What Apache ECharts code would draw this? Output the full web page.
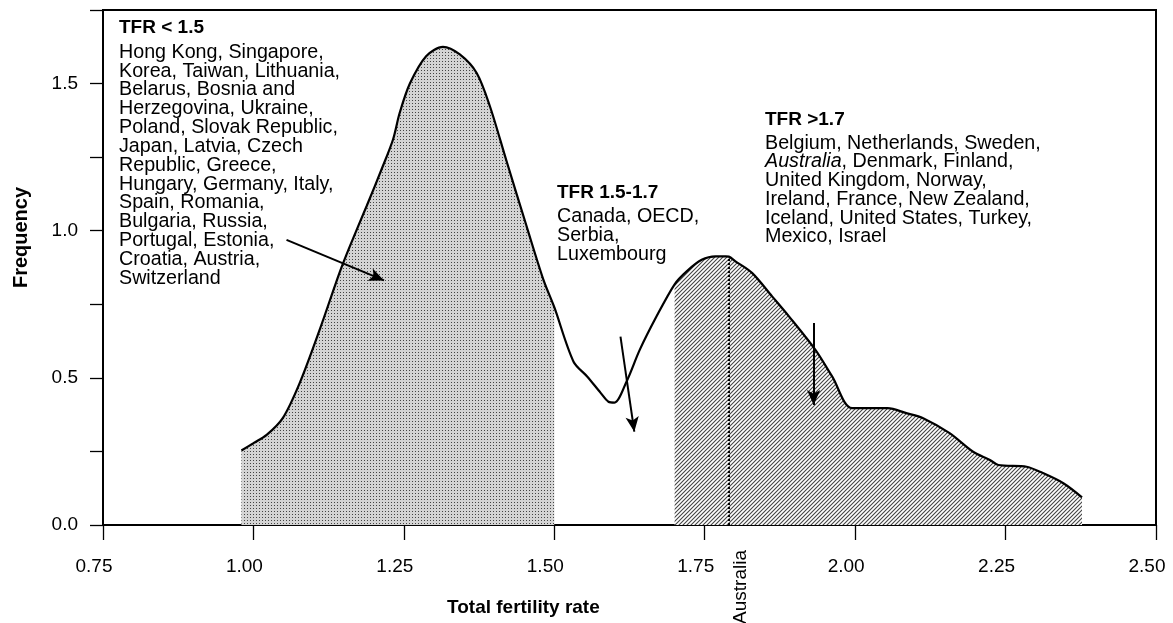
<!DOCTYPE html>
<html><head><meta charset="utf-8">
<script src="https://cdn.jsdelivr.net/npm/echarts@6/dist/echarts.min.js"></script>
<style>html,body{margin:0;padding:0;background:#fff}#c{width:1173px;height:623px}</style>
</head><body><div id="c"></div>
<script>
// ---- data ----
const curveX = [0.98, 1.00, 1.022, 1.049, 1.077, 1.11, 1.143, 1.16, 1.188, 1.215, 1.232, 1.243, 1.26, 1.287, 1.315, 1.343, 1.371, 1.393, 1.42, 1.454, 1.482, 1.50,
  1.532, 1.555, 1.577, 1.59, 1.60, 1.62, 1.642, 1.67, 1.70, 1.72, 1.745, 1.768, 1.785, 1.79, 1.801, 1.829, 1.862, 1.89, 1.934, 1.962, 1.995,
  2.054, 2.085, 2.113, 2.157, 2.196, 2.224, 2.238, 2.285, 2.307, 2.346, 2.377];
const curveY = [0.253, 0.278, 0.306, 0.364, 0.483, 0.663, 0.857, 0.946, 1.083, 1.219, 1.31, 1.40, 1.50, 1.593, 1.625, 1.599, 1.536, 1.423, 1.241, 1.015, 0.833, 0.74,
  0.555, 0.504, 0.449, 0.419, 0.416, 0.487, 0.595, 0.709, 0.818, 0.862, 0.901, 0.913, 0.913, 0.912, 0.896, 0.856, 0.777, 0.709, 0.595, 0.504, 0.397,
  0.397, 0.38, 0.363, 0.312, 0.249, 0.221, 0.204, 0.198, 0.181, 0.142, 0.094];
const lowRange = [0.98, 1.50];
const highRange = [1.70, 2.377];
const australiaX = 1.79;
const arrowFrom = [[1.055, 0.969], [1.610, 0.64], [1.931, 0.686]];
const arrowTo   = [[1.217, 0.831], [1.633, 0.317], [1.931, 0.408]];

const lowTitle = 'TFR < 1.5';
const lowLines = ['Hong Kong, Singapore,', 'Korea, Taiwan, Lithuania,', 'Belarus, Bosnia and', 'Herzegovina, Ukraine,',
  'Poland, Slovak Republic,', 'Japan, Latvia, Czech', 'Republic, Greece,', 'Hungary, Germany, Italy,', 'Spain, Romania,',
  'Bulgaria, Russia,', 'Portugal, Estonia,', 'Croatia, Austria,', 'Switzerland'];
const midTitle = 'TFR 1.5-1.7';
const midLines = ['Canada, OECD,', 'Serbia,', 'Luxembourg'];
const highTitle = 'TFR >1.7';
const highLines = ['Belgium, Netherlands, Sweden,', '{i|Australia}, Denmark, Finland,', 'United Kingdom, Norway,',
  'Ireland, France, New Zealand,', 'Iceland, United States, Turkey,', 'Mexico, Israel'];
const xName = 'Total fertility rate';
const yName = 'Frequency';
const markName = 'Australia';

// ---- build ----
const FONT = '"Liberation Sans", Arial, Helvetica, sans-serif';
const BODY = 19.7;
const pts = curveX.map((x, i) => [x, curveY[i]]);
const lowPts = pts.filter(p => p[0] >= lowRange[0] && p[0] <= lowRange[1]);
const highPts = pts.filter(p => p[0] >= highRange[0] && p[0] <= highRange[1]);
const australiaY = curveY[curveX.indexOf(australiaX)];

function dotPattern() {
  const c = document.createElement('canvas'); c.width = 3; c.height = 3;
  const g = c.getContext('2d');
  g.fillStyle = '#d4d4d4'; g.fillRect(0, 0, 3, 3);
  g.fillStyle = '#444'; g.fillRect(1, 1, 1, 1);
  return c;
}
function hatchPattern() {
  const s = 4;
  const c = document.createElement('canvas'); c.width = s; c.height = s;
  const g = c.getContext('2d');
  g.fillStyle = '#fff'; g.fillRect(0, 0, s, s);
  g.strokeStyle = '#444'; g.lineWidth = 1.1;
  g.beginPath();
  g.moveTo(0, s); g.lineTo(s, 0);
  g.moveTo(-1, 1); g.lineTo(1, -1);
  g.moveTo(s - 1, s + 1); g.lineTo(s + 1, s - 1);
  g.stroke();
  return c;
}

const chart = echarts.init(document.getElementById('c'), null, { renderer: 'canvas' });

function textEl(x, y, text, opts) {
  return {
    type: 'text', x: x, y: y, silent: true,
    style: Object.assign({
      text: text, fill: '#000', fontFamily: FONT, fontSize: BODY,
      align: 'left', verticalAlign: 'middle'
    }, opts || {})
  };
}
const graphics = [];
function block(x, yTitle, yFirst, step, title, lines) {
  graphics.push(textEl(x, yTitle, title, { fontWeight: 'bold', fontSize: 19 }));
  lines.forEach((l, i) => graphics.push(textEl(x, yFirst + i * step, l, {
    rich: { i: { fontStyle: 'italic', fontFamily: FONT, fontSize: BODY, fill: '#000' } }
  })));
}
block(119, 28, 52.3, 18.83, lowTitle, lowLines);
block(557, 192.7, 216.7, 19, midTitle, midLines);
block(765, 119.3, 143.3, 18.7, highTitle, highLines);
graphics.push(textEl(447, 608, xName, { fontWeight: 'bold', fontSize: 19 }));
const yn = textEl(21, 237.5, yName, { fontWeight: 'bold', fontSize: 20, align: 'center' });
yn.rotation = Math.PI / 2;
graphics.push(yn);

const option = {
  animation: false,
  backgroundColor: '#fff',
  grid: { left: 103, right: 17, top: 10, bottom: 98, containLabel: false, outerBoundsMode: 'none',
          show: true, borderColor: '#000', borderWidth: 2, backgroundColor: 'transparent' },
  xAxis: {
    type: 'value', min: 0.75, max: 2.5, interval: 0.25,
    splitLine: { show: false },
    axisLine: { show: true, lineStyle: { color: '#000', width: 2 } },
    axisTick: { show: true, inside: false, length: 15, lineStyle: { color: '#000', width: 1.3 } },
    axisLabel: { color: '#000', fontFamily: FONT, fontSize: 19, lineHeight: 19, margin: 32,
                 padding: [0, 18, 0, 0], formatter: v => v.toFixed(2) }
  },
  yAxis: {
    type: 'value', min: 0, max: 1.75, interval: 0.25,
    splitLine: { show: false },
    axisLine: { show: true, lineStyle: { color: '#000', width: 2 } },
    axisTick: { show: true, inside: false, length: 13, lineStyle: { color: '#000', width: 1.3 } },
    axisLabel: { color: '#000', fontFamily: FONT, fontSize: 19, margin: 25,
                 formatter: v => (Math.abs(v * 2 - Math.round(v * 2)) < 1e-6 ? v.toFixed(1) : '') }
  },
  series: [
    { type: 'line', data: lowPts, symbol: 'none', silent: true, z: 1, smooth: 0.3,
      lineStyle: { width: 0, opacity: 0 },
      areaStyle: { color: { image: dotPattern(), repeat: 'repeat' }, opacity: 1 } },
    { type: 'line', data: highPts, symbol: 'none', silent: true, z: 1, smooth: 0.3,
      lineStyle: { width: 0, opacity: 0 },
      areaStyle: { color: { image: hatchPattern(), repeat: 'repeat' }, opacity: 1 },
      markLine: { silent: true, symbol: ['none', 'none'], label: { show: false }, animation: false,
        lineStyle: { type: 'dotted', color: '#000', width: 2 },
        data: [[{ coord: [australiaX, 0] }, { coord: [australiaX, australiaY] }]] } },
    { type: 'line', data: pts, symbol: 'none', silent: true, z: 3, smooth: 0.3,
      lineStyle: { color: '#000', width: 2.2 },
      markLine: { silent: true, symbol: ['none', 'arrow'], symbolSize: [10, 15], label: { show: false }, animation: false,
        lineStyle: { type: 'solid', color: '#000', width: 2 },
        data: arrowFrom.map((f, i) => [{ coord: f }, { coord: arrowTo[i] }]) } }
  ],
  graphic: graphics
};
chart.setOption(option);

// Rotated 'Australia' marker label under the axis, anchored to the data position
const base = chart.convertToPixel({ gridIndex: 0 }, [australiaX, 0]);
const al = textEl(base[0] + 12, base[1] + 25, markName, { align: 'right', fontSize: 19 });
al.rotation = Math.PI / 2;
chart.setOption({ graphic: graphics.concat([al]) });
</script>
</body></html>
